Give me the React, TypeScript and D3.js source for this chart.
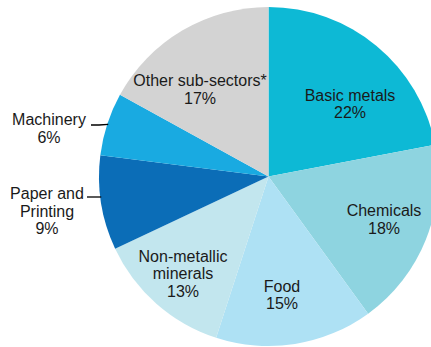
import React from "react";
import * as d3 from "d3";

const categories = ["Basic metals", "Chemicals", "Food", "Non-metallic minerals", "Paper and Printing", "Machinery", "Other sub-sectors*"];
const shares = [22, 18, 15, 13, 9, 6, 17];
const colors = ["#0db9d5", "#8ed4e0", "#aee1f4", "#c2e6ee", "#0b6db7", "#19aae1", "#d3d3d3"];
const labelLines = [
  ["Basic metals"],
  ["Chemicals"],
  ["Food"],
  ["Non-metallic", "minerals"],
  ["Paper and", "Printing"],
  ["Machinery"],
  ["Other sub-sectors*"],
];

const W = 431, H = 347;
const CX = 268.5, CY = 176.5, R = 169.5;
const FS = 16, LH = 17.5;

// label layout: centre of the text block, relative to pie centre (inside) or absolute (outside)
const inside: Record<string, [number, number]> = {
  "Basic metals": [81.5, -72.8],
  "Chemicals": [115.5, 42.7],
  "Food": [13.5, 118.1],
  "Non-metallic minerals": [-85.5, 96.8],
  "Other sub-sectors*": [-68.5, -87.2],
};

export default function App() {
  const data = categories.map((c, i) => ({ c, v: shares[i], i }));
  const pie = d3.pie<any>().value((d) => d.v).sort(null).startAngle(0).endAngle(2 * Math.PI);
  const arcs = pie(data);
  const arc = d3.arc<any>().innerRadius(0).outerRadius(R);

  const textBlock = (lines: string[], x: number, cy: number, key: string) => {
    const n = lines.length;
    return (
      <text key={key} x={x} textAnchor="middle" fontSize={FS} fill="#1a1a1a" fontFamily="Liberation Sans, Arial, sans-serif">
        {lines.map((l, j) => (
          <tspan key={j} x={x} y={cy + (j - (n - 1) / 2) * LH + 5.7}>{l}</tspan>
        ))}
      </text>
    );
  };

  const edgeX = (y: number) => CX - Math.sqrt(R * R - (y - CY) * (y - CY));

  return (
    <svg width={W} height={H} style={{ position: "absolute", left: 0, top: 0 }}>
      <g transform={`translate(${CX},${CY})`}>
        {arcs.map((a, i) => (
          <path key={i} d={arc(a) as string} fill={colors[i]} />
        ))}
      </g>
      {arcs.map((a, i) => {
        const c = categories[i];
        const lines = [...labelLines[i], `${shares[i]}%`];
        if (inside[c]) {
          const [dx, dy] = inside[c];
          return textBlock(lines, CX + dx, CY + dy, c);
        }
        return null;
      })}
      {/* Machinery outside label */}
      {(() => {
        const mid = (arcs[5].startAngle + arcs[5].endAngle) / 2;
        const ex = CX + Math.sin(mid) * (R - 1);
        const ey = CY - Math.cos(mid) * (R - 1);
        return (
          <g>
            <polyline points={`91,125 99,125 ${ex},${ey}`} fill="none" stroke="#000" strokeWidth={1.3} />
            {textBlock([...labelLines[5], `${shares[5]}%`], 49, 128.5, "mach")}
          </g>
        );
      })()}
      {/* Paper outside label */}
      <g>
        <line x1={87} y1={197} x2={edgeX(197) + 1} y2={197} stroke="#000" strokeWidth={1.3} />
        {textBlock([...labelLines[4], `${shares[4]}%`], 47, 210.8, "paper")}
      </g>
    </svg>
  );
}
